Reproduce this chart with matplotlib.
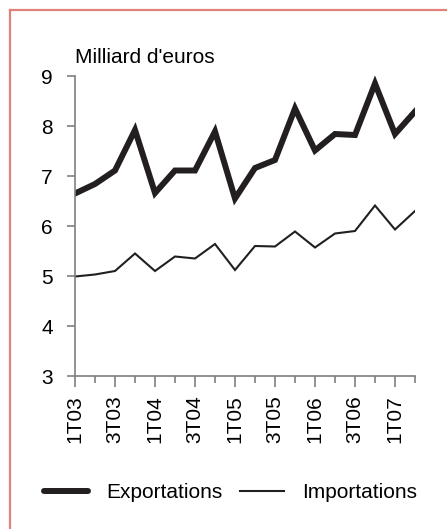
import matplotlib.pyplot as plt
from matplotlib.lines import Line2D

plt.rcParams["font.family"] = ["Liberation Sans", "DejaVu Sans"]

# Quarterly trade, billions of euros (1T03 .. 2T07)
quarters = ["1T03", "2T03", "3T03", "4T03",
            "1T04", "2T04", "3T04", "4T04",
            "1T05", "2T05", "3T05", "4T05",
            "1T06", "2T06", "3T06", "4T06",
            "1T07", "2T07"]
exportations = [6.65, 6.84, 7.11, 7.92, 6.66, 7.11, 7.11, 7.89, 6.55,
                7.16, 7.32, 8.35, 7.51, 7.84, 7.82, 8.85, 7.84, 8.29]
importations = [4.99, 5.03, 5.10, 5.45, 5.10, 5.39, 5.35, 5.64, 5.12,
                5.60, 5.59, 5.89, 5.57, 5.85, 5.90, 6.41, 5.93, 6.30]
y_ticks = [3, 4, 5, 6, 7, 8, 9]

W, H = 447, 529
fig = plt.figure(figsize=(W / 100, H / 100), dpi=100)
ax = fig.add_axes([75 / W, 1 - 376 / H, 340 / W, 300 / H])

ink = "#231f20"
x = list(range(len(quarters)))
ax.plot(x, exportations, color=ink, lw=4.3, solid_joinstyle="miter")
ax.plot(x, importations, color=ink, lw=1.5, solid_joinstyle="miter")

ax.set_xlim(0, len(quarters) - 1)
ax.set_ylim(3, 9)
ax.set_yticks(y_ticks)
ax.set_xticks(x[::2])
ax.set_xticklabels(quarters[::2], rotation=90)
ax.set_xticks(x[1::2], minor=True)

for side in ["top", "right"]:
    ax.spines[side].set_visible(False)
for side in ["left", "bottom"]:
    ax.spines[side].set_color("#7f7f7f")
    ax.spines[side].set_linewidth(1.2)

ax.tick_params(axis="y", length=6, width=1.2, color="#7f7f7f",
               labelsize=15, pad=10, labelcolor="black")
ax.tick_params(axis="x", which="major", length=8, width=1.2, color="#7f7f7f",
               labelsize=15, pad=6, labelcolor="black")
ax.tick_params(axis="x", which="minor", length=5, width=1.2, color="#7f7f7f")

fig.text(75 / W, 1 - 63 / H, "Milliard d'euros", fontsize=15, va="baseline")

handles = [
    Line2D([], [], color=ink, lw=4.3, solid_capstyle="round"),
    Line2D([], [], color=ink, lw=1.5),
]
fig.legend(handles, ["Exportations", "Importations"], ncol=2,
           loc="center left", bbox_to_anchor=(44 / W, 1 - 493 / H),
           frameon=False, fontsize=15, handlelength=2.1,
           handletextpad=0.87, columnspacing=0.87,
           borderpad=0, borderaxespad=0)

# pink frame (top and left edges visible)
frame = "#e0827a"
fig.add_artist(Line2D([10 / W, 10 / W], [0, 1 - 10 / H], color=frame, lw=1.6))
fig.add_artist(Line2D([10 / W, 1], [1 - 10 / H, 1 - 10 / H], color=frame, lw=1.6))

fig.savefig("out.png", dpi=100)
